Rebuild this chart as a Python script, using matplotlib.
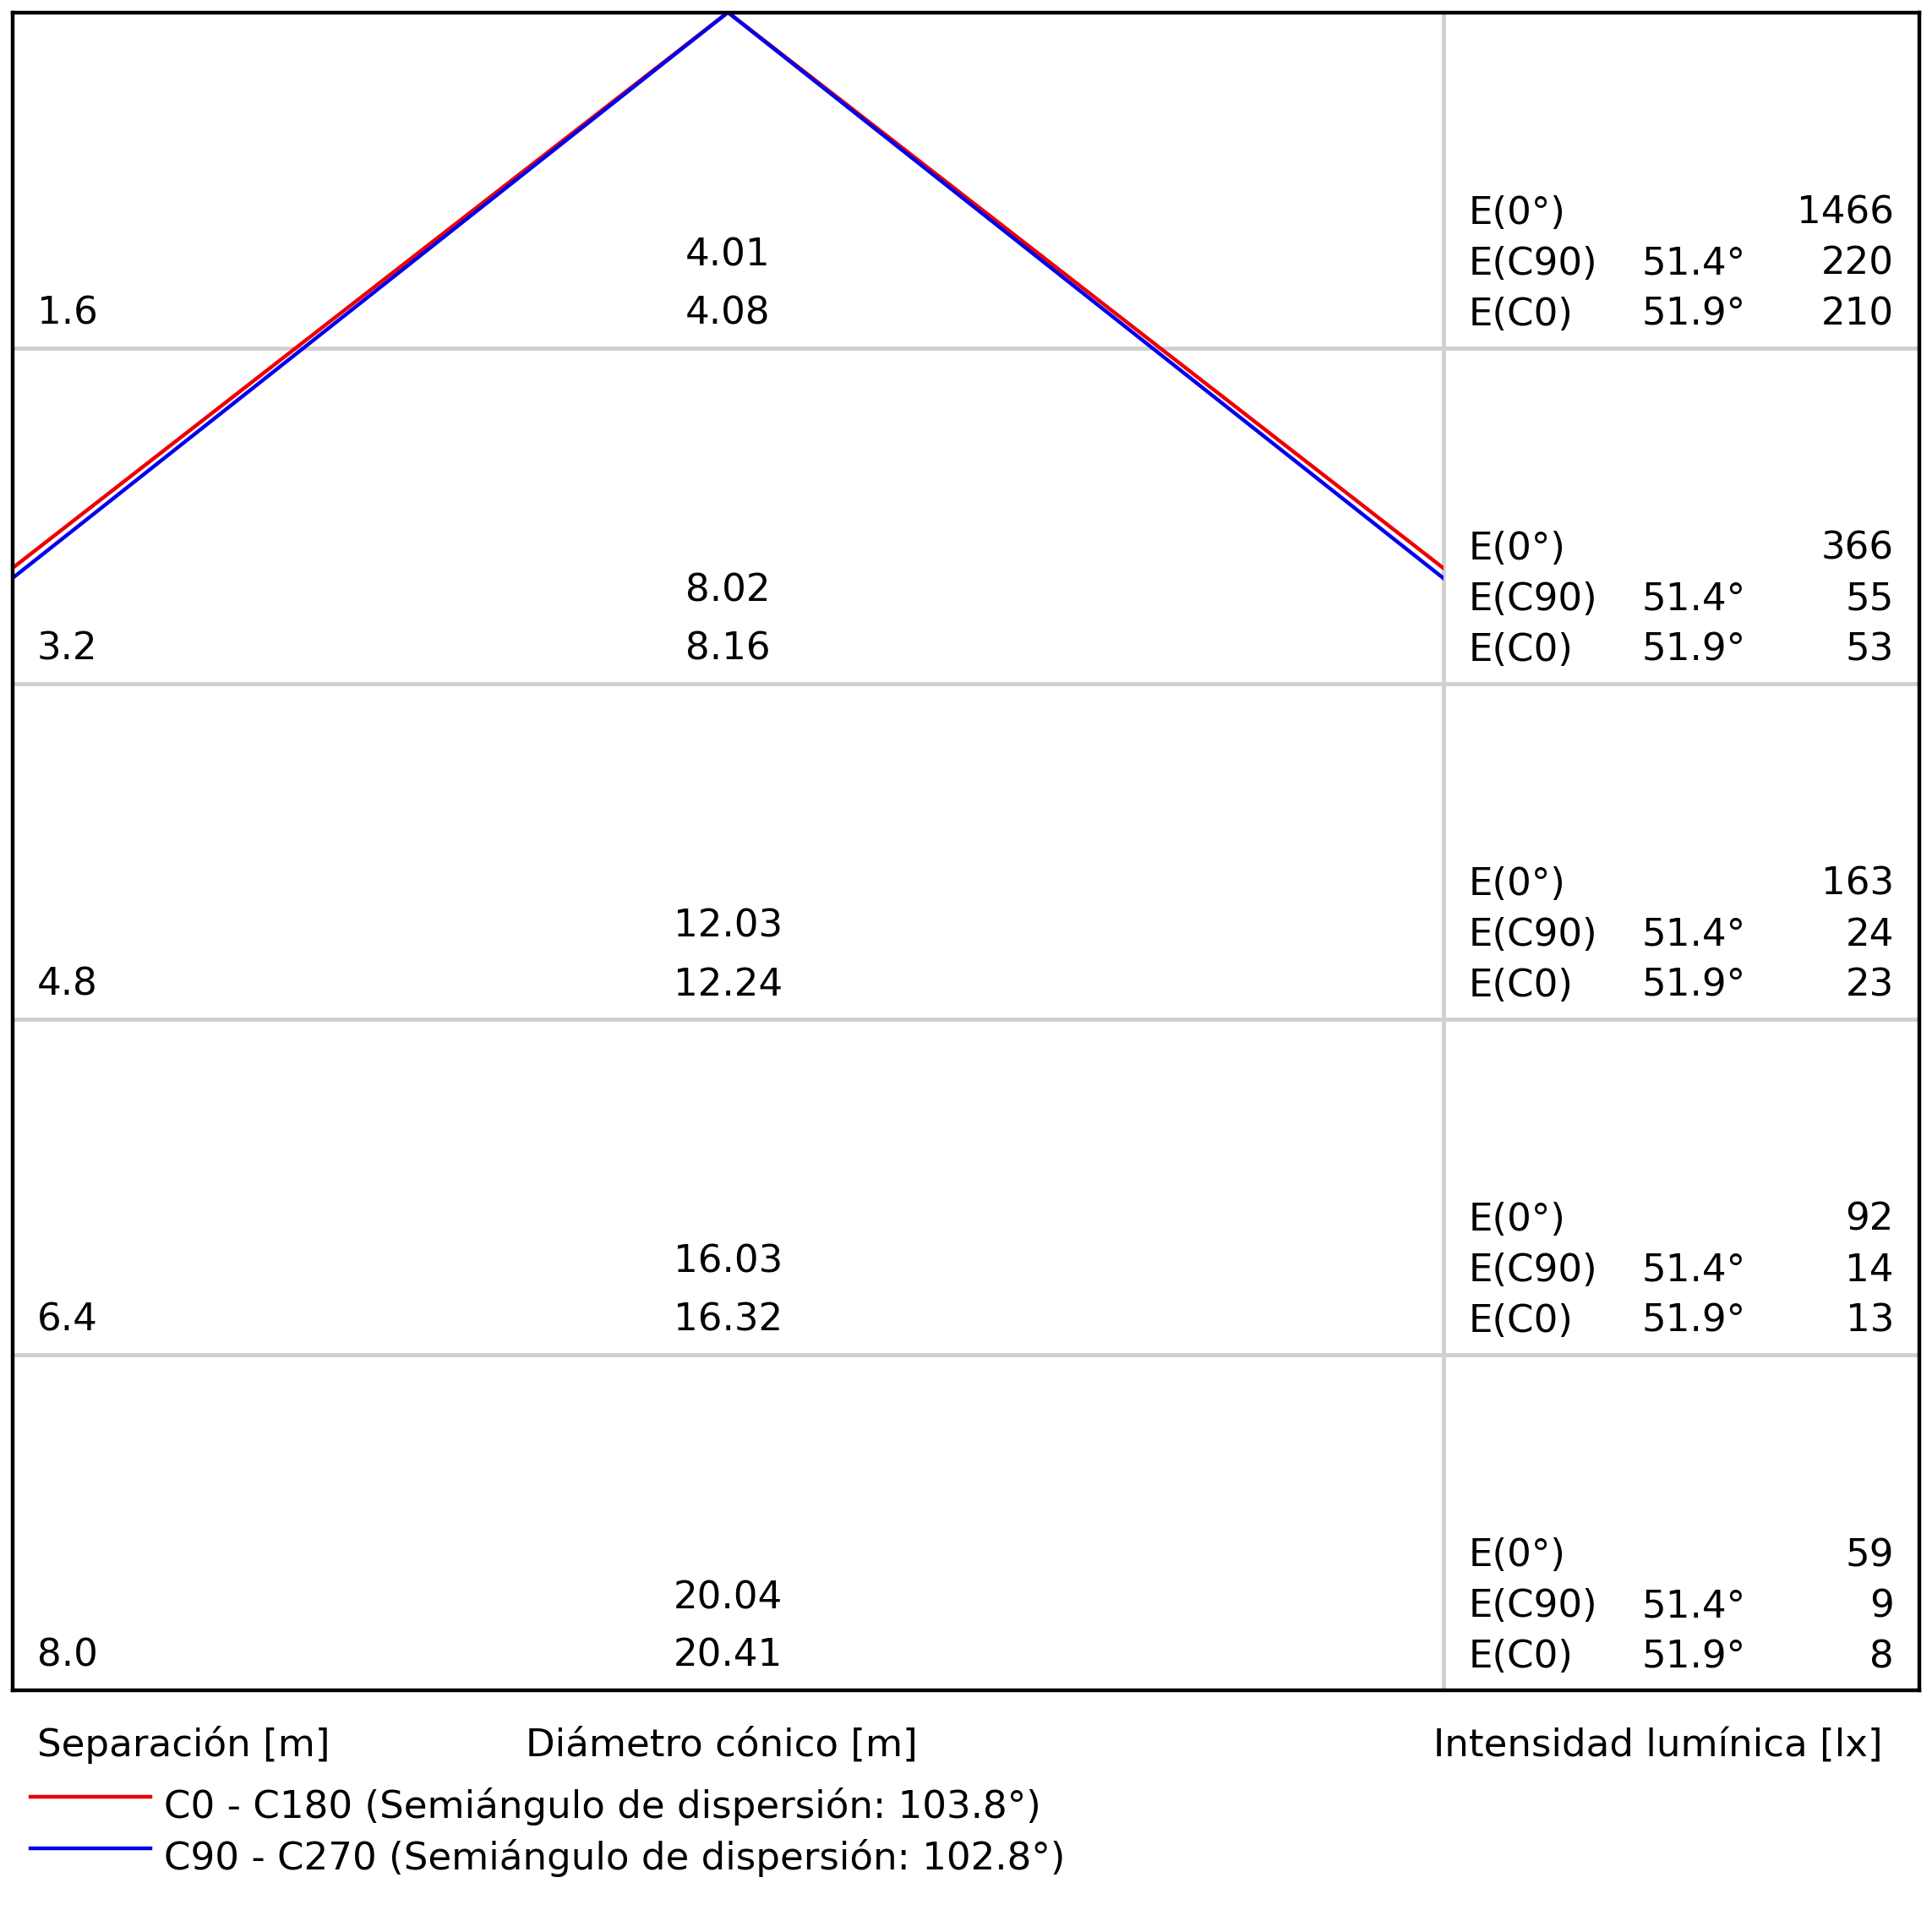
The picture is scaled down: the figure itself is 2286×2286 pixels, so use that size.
import numpy as np
import matplotlib
matplotlib.use("Agg")
import matplotlib.pyplot as plt
import matplotlib.transforms as mtransforms
from matplotlib.patches import Rectangle

# separation (mounting distance) rows, m
separation = [1.6, 3.2, 4.8, 6.4, 8.0]
# cone diameters, C90 plane (upper) and C0 plane (lower)
diam_c90 = [4.01, 8.02, 12.03, 16.03, 20.04]
diam_c0 = [4.08, 8.16, 12.24, 16.32, 20.41]
# illuminance values, lx
e_center = [1466, 366, 163, 92, 59]
e_c90 = [220, 55, 24, 14, 9]
e_c0 = [210, 53, 23, 13, 8]
half_angle_c90 = 51.4
half_angle_c0 = 51.9
legend_labels = ["C0 - C180 (Semiángulo de dispersión: 103.8°)",
                 "C90 - C270 (Semiángulo de dispersión: 102.8°)"]

W = 2286
fig = plt.figure(figsize=(W / 100, W / 100), dpi=100)
plt.rcParams["font.family"] = ["DejaVu Sans"]
FS = 32.5

left, top, right, bottom = 14.6, 14.6, 2271, 2000
ax = fig.add_axes([left / W, 1 - bottom / W, (right - left) / W, (bottom - top) / W])
ax.set_facecolor("white")

XH = 3.38  # half width of the cone area in metres
sep_px = 1708
frac_sep = (sep_px - left) / (right - left)
xmax = -XH + 2 * XH / frac_sep
ax.set_xlim(-XH, xmax)
ax.set_ylim(separation[-1], 0)
ax.set_xticks([])
ax.set_yticks([])
for s in ax.spines.values():
    s.set_linewidth(3.2)
    s.set_color("black")
    s.set_zorder(10)

# grid
for d in separation[:-1]:
    ax.axhline(d, color="#d0d0d0", lw=3.5, zorder=1)
ax.axvline(XH, color="#d0d0d0", lw=3.5, zorder=1)

# cone lines
clip = Rectangle((-XH, 0), 2 * XH, separation[-1], transform=ax.transData)
depth = separation[-1]
for ang, col in [(half_angle_c0, "#ee0000"), (half_angle_c90, "#0000ee")]:
    r = depth * np.tan(np.radians(ang))
    ln, = ax.plot([-r, 0, r], [depth, 0, depth], color=col, lw=3.2, zorder=3,
                  clip_on=True)
    ln.set_clip_path(clip)

px_per_m = (bottom - top) / separation[-1]
trans = mtransforms.blended_transform_factory(ax.transAxes, ax.transData)
x_sep = (44 - left) / (right - left)
x_lab = (1738 - left) / (right - left)
x_ang = (1943 - left) / (right - left)
x_val = (2241 - left) / (right - left)

for i, d in enumerate(separation):
    ax.text(x_sep, d - 28 / px_per_m, f"{d:.1f}", transform=trans,
            fontsize=FS, ha="left", va="baseline")
    ax.text(0, d - 97 / px_per_m, f"{diam_c90[i]:.2f}", fontsize=FS,
            ha="center", va="baseline")
    ax.text(0, d - 28 / px_per_m, f"{diam_c0[i]:.2f}", fontsize=FS,
            ha="center", va="baseline")
    rows = [("E(0°)", "", e_center[i]),
            ("E(C90)", f"{half_angle_c90:.1f}°", e_c90[i]),
            ("E(C0)", f"{half_angle_c0:.1f}°", e_c0[i])]
    for j, (lab, ang, val) in enumerate(rows):
        y = d - (147 - 60 * j) / px_per_m
        ax.text(x_lab, y, lab, transform=trans, fontsize=FS, ha="left", va="baseline")
        if ang:
            ax.text(x_ang, y, ang, transform=trans, fontsize=FS, ha="left", va="baseline")
        ax.text(x_val, y, str(val), transform=trans, fontsize=FS, ha="right", va="baseline")

# axis captions below the frame
fig.text(44 / W, 1 - 2078 / W, "Separación [m]", fontsize=FS, ha="left", va="baseline")
fig.text(854 / W, 1 - 2078 / W, "Diámetro cónico [m]", fontsize=FS, ha="center", va="baseline")
fig.text(2228 / W, 1 - 2078 / W, "Intensidad lumínica [lx]", fontsize=FS, ha="right", va="baseline")

# legend
for k, (lab, col) in enumerate(zip(legend_labels, ["#ee0000", "#0000ee"])):
    yl = 2126 + 61 * k
    fig.add_artist(plt.Line2D([36 / W, 178 / W], [1 - yl / W, 1 - yl / W],
                              color=col, lw=3.2, transform=fig.transFigure))
    fig.text(194 / W, 1 - (yl + 25) / W, lab, fontsize=FS, ha="left", va="baseline")

fig.savefig("out.png", dpi=100, facecolor="white")
